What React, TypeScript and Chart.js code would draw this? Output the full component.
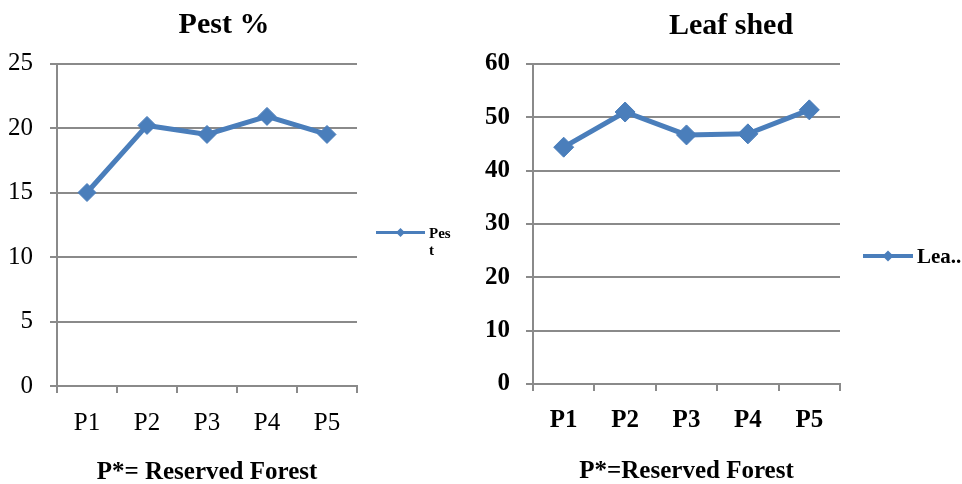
import React, { useEffect, useRef } from 'react';
import { Chart, registerables } from 'chart.js';

Chart.register(...registerables);

// ---- data ----
const categories = ['P1', 'P2', 'P3', 'P4', 'P5'];
const pestValues = [15.0, 20.2, 19.5, 20.9, 19.5];
const leafShedValues = [44.4, 51.0, 46.7, 46.9, 51.4];

const pestTitle = 'Pest %';
const leafTitle = 'Leaf shed';
const pestXTitle = 'P*= Reserved Forest';
const leafXTitle = 'P*=Reserved Forest';
const pestLegendLines = ['Pes', 't'];
const leafLegendLines = ['Lea..'];
const pestYRange = [0, 25, 5];
const leafYRange = [0, 60, 10];

const SERIF = "'Liberation Serif', 'Times New Roman', Times, serif";
const BLUE = '#4A7EBB';
const GRID = '#8A8A8A';

type Spec = {
  width: number;
  left: number;
  labels: string[];
  values: number[];
  yRange: number[];
  title: string;
  xTitle: string;
  legendLines: string[];
  bold: boolean;
  yWidth: number;
  padTop: number;
  padRight: number;
  xHeight: number;
  yTickPad: number;
  titleX: number;
  titleBaseline: number;
  xTitleBaseline: number;
  pointRadius: number;
  lineWidth: number;
  legend: { x0: number; len: number; y: number; lw: number; r: number; tx: number; font: number; baseline: number; gap: number };
};

const specs: Spec[] = [
  {
    width: 480,
    left: 0,
    labels: categories,
    values: pestValues,
    yRange: pestYRange,
    title: pestTitle,
    xTitle: pestXTitle,
    legendLines: pestLegendLines,
    bold: false,
    yWidth: 57,
    padTop: 63.5,
    padRight: 123,
    xHeight: 98,
    yTickPad: 17,
    titleX: 224,
    titleBaseline: 33,
    xTitleBaseline: 479,
    pointRadius: 9,
    lineWidth: 5,
    legend: { x0: 19, len: 49, y: 232.5, lw: 3, r: 4.5, tx: 72, font: 15, baseline: 238, gap: 17 },
  },
  {
    width: 482,
    left: 480,
    labels: categories,
    values: leafShedValues,
    yRange: leafYRange,
    title: leafTitle,
    xTitle: leafXTitle,
    legendLines: leafLegendLines,
    bold: true,
    yWidth: 53,
    padTop: 64,
    padRight: 122,
    xHeight: 100,
    yTickPad: 16,
    titleX: 251,
    titleBaseline: 34,
    xTitleBaseline: 477.5,
    pointRadius: 10,
    lineWidth: 5,
    legend: { x0: 23, len: 50, y: 256, lw: 4, r: 5.5, tx: 77, font: 21, baseline: 263, gap: 20 },
  },
];

function LineChart({ spec }: { spec: Spec }) {
  const ref = useRef<HTMLCanvasElement | null>(null);

  useEffect(() => {
    if (!ref.current) return;
    const s = spec;
    const decor = {
      id: 'decor',
      afterDraw(chart: any) {
        const ctx = chart.ctx;
        const ca = chart.chartArea;
        ctx.save();
        ctx.fillStyle = '#000';
        ctx.textAlign = 'center';
        ctx.textBaseline = 'alphabetic';
        ctx.font = `bold 30px ${SERIF}`;
        ctx.fillText(s.title, s.titleX, s.titleBaseline);
        ctx.font = `bold 25px ${SERIF}`;
        ctx.fillText(s.xTitle, (ca.left + ca.right) / 2, s.xTitleBaseline);

        // legend
        const L = s.legend;
        const x0 = ca.right + L.x0;
        ctx.strokeStyle = BLUE;
        ctx.lineWidth = L.lw;
        ctx.beginPath();
        ctx.moveTo(x0, L.y);
        ctx.lineTo(x0 + L.len, L.y);
        ctx.stroke();
        const cx = x0 + L.len / 2;
        ctx.fillStyle = BLUE;
        ctx.beginPath();
        ctx.moveTo(cx, L.y - L.r);
        ctx.lineTo(cx + L.r, L.y);
        ctx.lineTo(cx, L.y + L.r);
        ctx.lineTo(cx - L.r, L.y);
        ctx.closePath();
        ctx.fill();
        ctx.fillStyle = '#000';
        ctx.textAlign = 'left';
        ctx.font = `bold ${L.font}px ${SERIF}`;
        s.legendLines.forEach((t, i) => {
          ctx.fillText(t, ca.right + L.tx, L.baseline + i * L.gap);
        });
        ctx.restore();
      },
    };

    const tickFont = { family: SERIF, size: 25, weight: s.bold ? 'bold' : 'normal' } as any;

    const chart = new Chart(ref.current, {
      type: 'line',
      data: {
        labels: s.labels,
        datasets: [
          {
            label: s.title,
            data: s.values,
            borderColor: BLUE,
            backgroundColor: BLUE,
            borderWidth: s.lineWidth,
            pointStyle: 'rectRot',
            pointRadius: s.pointRadius,
            pointBackgroundColor: BLUE,
            pointBorderColor: BLUE,
            pointBorderWidth: 1,
            tension: 0,
          },
        ],
      },
      options: {
        responsive: false,
        animation: false,
        devicePixelRatio: 1,
        layout: { padding: { left: 0, top: s.padTop, right: s.padRight, bottom: 0 } },
        plugins: {
          legend: { display: false },
          title: { display: false },
          tooltip: { enabled: false },
        },
        scales: {
          x: {
            type: 'category',
            offset: true,
            grid: {
              display: true,
              drawOnChartArea: false,
              drawTicks: true,
              tickLength: 7,
              offset: true,
              color: GRID,
              lineWidth: 2,
            },
            border: { display: true, color: GRID, width: 2 },
            ticks: { color: '#000', font: tickFont, padding: 15, maxRotation: 0 },
            afterFit: (scale: any) => {
              scale.height = s.xHeight;
            },
          },
          y: {
            min: s.yRange[0],
            max: s.yRange[1],
            ticks: { stepSize: s.yRange[2], color: '#000', font: tickFont, padding: s.yTickPad },
            grid: { color: GRID, lineWidth: 2, drawTicks: true, tickLength: 7 },
            border: { display: true, color: GRID, width: 2 },
            afterFit: (scale: any) => {
              scale.width = s.yWidth;
            },
          },
        },
      },
      plugins: [decor],
    } as any);

    return () => chart.destroy();
  }, [spec]);

  return (
    <canvas
      ref={ref}
      width={spec.width}
      height={484}
      style={{ position: 'absolute', left: spec.left, top: 0, width: spec.width, height: 484, display: 'block' }}
    />
  );
}

export default function App() {
  return (
    <div style={{ position: 'fixed', left: 0, top: 0, width: 962, height: 484, background: '#fff', overflow: 'hidden' }}>
      {specs.map((s, i) => (
        <LineChart key={i} spec={s} />
      ))}
    </div>
  );
}
